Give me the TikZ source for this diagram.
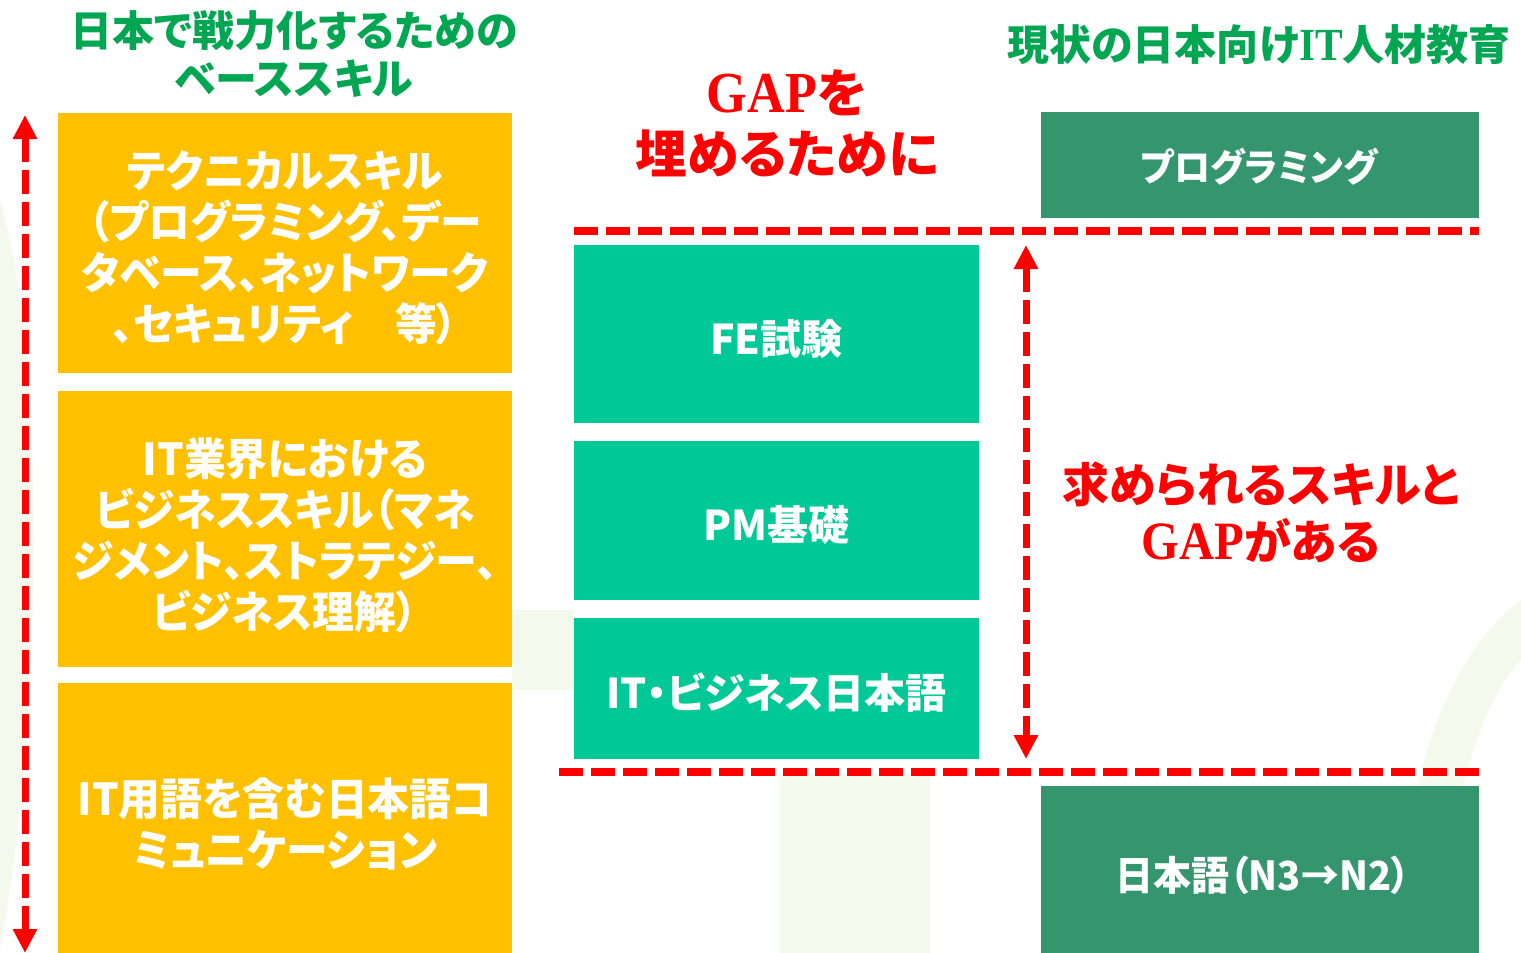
\documentclass[tikz,border=0pt]{standalone}
\usepackage{fontspec}
\usetikzlibrary{arrows.meta}
\newfontfamily\jpa{Noto Sans CJK JP}[FakeStretch=0.95,RawFeature=+palt]
\newfontfamily\jpm{Noto Sans CJK JP}[FakeStretch=1.0,RawFeature=+palt]
\newfontfamily\jpg{Noto Sans CJK JP}[FakeStretch=0.95]
\newfontfamily\jpt{Noto Sans CJK JP}[FakeStretch=1.0,RawFeature=+palt]
\newfontfamily\jpr{Noto Sans CJK JP}[FakeStretch=1.0,RawFeature=+palt]
\newfontfamily\ser{Liberation Serif}[FakeStretch=0.9]
\definecolor{orng}{HTML}{FFC000}
\definecolor{teal2}{HTML}{00C997}
\definecolor{dgrn}{HTML}{34956E}
\definecolor{tgrn}{HTML}{00A651}
\definecolor{wm}{HTML}{F4F9EE}
\tikzset{
  obox/.style={fill=orng, draw=none, minimum width=454pt, inner sep=0pt},
  tbox/.style={fill=teal2, draw=none, minimum width=405pt, inner sep=0pt},
  gbox/.style={fill=dgrn, draw=none, minimum width=438pt, inner sep=0pt},
  boxtext/.style={text=white, align=center, inner sep=0pt},
  otext/.style={boxtext, font=\jpa\bfseries\fontsize{44}{51}\selectfont},
  ttext/.style={boxtext, font=\jpm\bfseries\fontsize{41}{48}\selectfont},
  gtitle/.style={text=tgrn, align=center, inner sep=0pt, font=\jpt\bfseries\fontsize{42}{48}\selectfont},
  rtitle/.style={text=red, align=center, inner sep=0pt},
  gapline/.style={draw=red, line width=8pt, dash pattern=on 24pt off 8pt},
  redarrow/.style={draw=red, line width=7pt, dash pattern=on 24pt off 8pt,
     {Triangle[width=23pt,length=24pt]}-{Triangle[width=23pt,length=24pt]}}
}
\begin{document}
\begin{tikzpicture}[x=1pt,y=-1pt]
\useasboundingbox (0,0) rectangle (1521,953);
% faint watermark
\fill[wm] (0,200) .. controls (45,350) and (45,700) .. (0,950) -- cycle;
\fill[wm] (779,773) rectangle (930,953);
\fill[wm] (1521,600) .. controls (1440,660) and (1400,800) .. (1400,953) -- (1440,953) .. controls (1445,820) and (1480,700) .. (1521,660) -- cycle;
\fill[wm] (512,610) rectangle (574,690);
% titles
\node[gtitle] (t1) at (294,54) {日本で戦力化するための\\ベーススキル};
\node[gtitle] (t2) at (1259,45) {現状の日本向け{\ser\bfseries\fontsize{46}{48}\selectfont IT}人材教育};
\node[rtitle, font=\jpr\bfseries\fontsize{52}{61}\selectfont] (t3) at (787,123)
  {{\ser\bfseries\fontsize{58}{61}\selectfont GAP}を\\埋めるために};
\node[rtitle, font=\jpr\bfseries\fontsize{47}{57}\selectfont] (t4) at (1261,512)
  {求められるスキルと\\{\ser\bfseries\fontsize{54}{57}\selectfont GAP}がある};
% left boxes
\node[obox, minimum height=260pt] (b1) at (285,243) {};
\node[obox, minimum height=276pt] (b2) at (285,529) {};
\node[obox, minimum height=270pt] (b3) at (285,818) {};
\node[otext] (b1t) at (285,248)
  {テクニカルスキル\\（プログラミング、デー\\タベース、ネットワーク\\、セキュリティ　等）};
\node[otext] (b2t) at (285,535)
  {IT業界における\\ビジネススキル（マネ\\ジメント、ストラテジー、\\ビジネス理解）};
\node[otext] (b3t) at (285,824)
  {IT用語を含む日本語コ\\ミュニケーション};
% middle boxes
\node[tbox, minimum height=178pt] (m1) at (776.5,334) {};
\node[tbox, minimum height=159pt] (m2) at (776.5,520.5) {};
\node[tbox, minimum height=141pt] (m3) at (776.5,688.5) {};
\node[ttext] (m1t) at (776.5,339) {FE試験};
\node[ttext] (m2t) at (776.5,525) {PM基礎};
\node[ttext] (m3t) at (776.5,693) {IT・ビジネス日本語};
% right boxes
\node[gbox, minimum height=106pt] (r1) at (1260,165) {};
\node[gbox, minimum height=167pt] (r2) at (1260,869.5) {};
\node[boxtext, font=\jpa\bfseries\fontsize{38}{46}\selectfont] (r1t) at (1259,167) {プログラミング};
\node[boxtext, font=\jpg\bfseries\fontsize{40}{46}\selectfont] (r2t) at (1263,875) {日本語{\addfontfeature{RawFeature=+palt}（}N3→N2{\addfontfeature{RawFeature=+palt}）}};
% dashed lines
\coordinate (u1) at (574,231);
\coordinate (u2) at (1479,231);
\coordinate (l1) at (559,772);
\coordinate (l2) at (1479,772);
\draw[gapline] (u1) -- (u2);
\draw[gapline] (l1) -- (l2);
% arrows
\coordinate (La) at (25,115);
\coordinate (Lb) at (25,953);
\coordinate (Ma) at (1026,245);
\coordinate (Mb) at (1026,759);
\draw[redarrow] (La) -- (Lb);
\draw[redarrow] (Ma) -- (Mb);
\end{tikzpicture}
\end{document}
